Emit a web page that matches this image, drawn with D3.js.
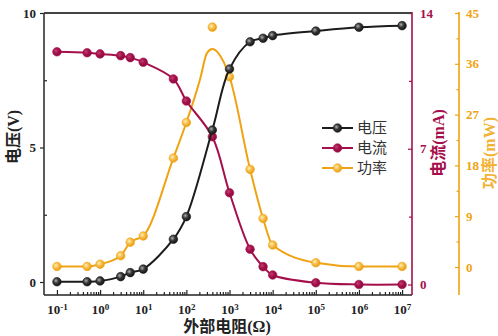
<!DOCTYPE html>
<html><head><meta charset="utf-8">
<script src="https://cdn.jsdelivr.net/npm/d3@7/dist/d3.min.js"></script>
<style>body{margin:0;background:#fff}svg{display:block}</style>
</head><body>
<svg id="c" width="498" height="336"></svg>
<script>
// ---- data ----
const resistance = [0.1,0.5,1,3,5,10,50,100,400,1000,3000,6000,10000,1e5,1e6,1e7];
const voltage = [0.01,0.01,0.04,0.2,0.35,0.48,1.59,2.43,5.65,7.92,8.93,9.06,9.16,9.33,9.47,9.53];
const current = [12.0,11.95,11.89,11.8,11.7,11.46,10.6,9.46,7.62,4.73,1.82,0.92,0.49,0.09,0.0,0.0];
const power = [0.1,0.1,0.5,2.0,4.4,5.5,19.3,25.6,42.5,33.7,17.3,8.6,3.9,0.76,0.1,0.1];
const powerFitR = [0.1,0.5,1,3,5,10,50,100,210,300,400,550,1000,3000,6000,10000,1e5,1e6,1e7];
const powerFitP = [0.1,0.1,0.5,2.0,4.4,5.5,19.3,25.6,33.4,37.9,38.6,37.9,33.7,17.3,8.6,3.9,0.76,0.1,0.1];
const xTicks = [-1,0,1,2,3,4,5,6,7];
const vTicks = [0,5,10], vMinor = [2.5,7.5];
const iTicks = [0,7,14], iMinor = [3.5,10.5];
const pTicks = [0,9,18,27,36,45], pMinor = [4.5,13.5,22.5,31.5,40.5];
const legendNames = ["电压","电流","功率"];

const cV = "#1c1c1c", cI = "#a50f4b", cP = "#f0a312";
const svg = d3.select("#c");
const L = 44, Rr = 412, T = 13, B = 295;

const x = d3.scaleLog().domain([Math.pow(10,-1.3), Math.pow(10,7.23)]).range([L, Rr]);
const yV = d3.scaleLinear().domain([0,10]).range([282,13]);
const yI = d3.scaleLinear().domain([0,14]).range([284.5,13]);
const yP = d3.scaleLinear().domain([0,45]).range([267,13]);

// gradients
const defs = svg.append("defs");
function grad(id, stops){
  const g = defs.append("radialGradient").attr("id",id).attr("cx","38%").attr("cy","38%").attr("r","65%");
  stops.forEach(s=>g.append("stop").attr("offset",s[0]).attr("stop-color",s[1]));
}
grad("gV",[["0%","#b0b0b0"],["45%","#3a3a3a"],["100%","#111"]]);
grad("gI",[["0%","#c0406e"],["50%","#a50f4b"],["100%","#8a0c3e"]]);
grad("gP",[["0%","#fff0b0"],["45%","#f6c050"],["100%","#eb9a0c"]]);

const serif = "'Liberation Serif','Times New Roman',serif";
const cjk = "'Liberation Serif','Noto Sans CJK SC',serif";

// ---- axes ----
function style(g, color){
  g.select(".domain").remove();
  g.selectAll("line").attr("stroke",color).attr("stroke-width",1.2);
  g.selectAll("text").attr("fill",color).attr("font-family",serif).attr("font-weight","bold").attr("font-size",13);
}
// bottom major
const gx = svg.append("g").attr("transform",`translate(0,${B})`)
  .call(d3.axisBottom(x).tickValues(xTicks.map(e=>Math.pow(10,e))).tickSize(-5).tickPadding(10).tickFormat(""));
style(gx,"#222");
gx.selectAll(".tick text").each(function(d){
  const t = d3.select(this); const e = Math.round(Math.log10(d));
  t.text("");
  t.append("tspan").text("10");
  t.append("tspan").attr("dy","-0.45em").attr("font-size",9).text(e);
});
const minorX = [];
for (let e=-1;e<7;e++) for (let k=2;k<10;k++) minorX.push(k*Math.pow(10,e));
const gxm = svg.append("g").attr("transform",`translate(0,${B})`)
  .call(d3.axisBottom(x).tickValues(minorX).tickSize(-3).tickFormat(""));
style(gxm,"#222");

// left
const gy = svg.append("g").attr("transform",`translate(${L},0)`)
  .call(d3.axisLeft(yV).tickValues(vTicks).tickSize(4).tickPadding(4));
style(gy,"#222");
const gym = svg.append("g").attr("transform",`translate(${L},0)`)
  .call(d3.axisLeft(yV).tickValues(vMinor).tickSize(-3).tickFormat(""));
style(gym,"#222");

// right (current)
const gi = svg.append("g").attr("transform",`translate(${Rr},0)`)
  .call(d3.axisRight(yI).tickValues(iTicks).tickSize(-4).tickPadding(8));
style(gi,cI);
const gim = svg.append("g").attr("transform",`translate(${Rr},0)`)
  .call(d3.axisRight(yI).tickValues(iMinor).tickSize(-3).tickFormat(""));
style(gim,cI);

// far right (power)
const PX = 459;
const gp = svg.append("g").attr("transform",`translate(${PX},0)`)
  .call(d3.axisRight(yP).tickValues(pTicks).tickSize(-4).tickPadding(7));
style(gp,cP);
const gpm = svg.append("g").attr("transform",`translate(${PX},0)`)
  .call(d3.axisRight(yP).tickValues(pMinor).tickSize(-2.5).tickFormat(""));
style(gpm,cP);

// frame lines
svg.append("line").attr("x1",L).attr("x2",Rr).attr("y1",T).attr("y2",T).attr("stroke","#444").attr("stroke-width",2);
svg.append("line").attr("x1",L).attr("x2",Rr).attr("y1",B).attr("y2",B).attr("stroke","#222").attr("stroke-width",1.6);
svg.append("line").attr("x1",L).attr("x2",L).attr("y1",T).attr("y2",B).attr("stroke","#333").attr("stroke-width",1.6);
svg.append("line").attr("x1",Rr).attr("x2",Rr).attr("y1",T-1).attr("y2",B).attr("stroke",cI).attr("stroke-width",1.6);
svg.append("line").attr("x1",PX).attr("x2",PX).attr("y1",T-1).attr("y2",B).attr("stroke",cP).attr("stroke-width",1.6);

// ---- series ----
function series(vals, yScale, color, gradId, fitR, fitV, crv){
  const pts = (fitR||resistance).map((r,i)=>[x(r), yScale((fitV||vals)[i])]);
  svg.append("path").attr("d", d3.line().curve(crv)(pts))
    .attr("fill","none").attr("stroke",color).attr("stroke-width",2);
  svg.append("g").selectAll("circle").data(vals).join("circle")
    .attr("cx",(d,i)=>x(resistance[i])).attr("cy",d=>yScale(d)).attr("r",4.3)
    .attr("fill",`url(#${gradId})`).attr("stroke",color).attr("stroke-width",0.6);
}
series(power, yP, cP, "gP", powerFitR, powerFitP, d3.curveMonotoneX);
series(current, yI, cI, "gI", null, null, d3.curveCatmullRom.alpha(0.5));
series(voltage, yV, cV, "gV", null, null, d3.curveCatmullRom.alpha(0.5));

// ---- legend ----
const lg = [[cV,"gV"],[cI,"gI"],[cP,"gP"]];
const ly = [128,148,168];
legendNames.forEach((n,i)=>{
  svg.append("line").attr("x1",322).attr("x2",353).attr("y1",ly[i]).attr("y2",ly[i]).attr("stroke",lg[i][0]).attr("stroke-width",2);
  svg.append("circle").attr("cx",337.5).attr("cy",ly[i]).attr("r",4.3).attr("fill",`url(#${lg[i][1]})`).attr("stroke",lg[i][0]).attr("stroke-width",0.6);
  svg.append("text").attr("x",357).attr("y",ly[i]).attr("dy","0.35em").attr("font-family","'Noto Sans CJK SC',sans-serif")
    .attr("font-size",15).attr("fill","#333").text(n);
});

// ---- titles ----
svg.append("text").attr("transform","translate(19,137) rotate(-90)").attr("text-anchor","middle")
  .attr("font-family",cjk).attr("font-weight","bold").attr("font-size",16).attr("fill","#222").text("电压(V)");
svg.append("text").attr("transform","translate(444,143) rotate(-90)").attr("text-anchor","middle")
  .attr("font-family",cjk).attr("font-weight","bold").attr("font-size",16).attr("fill",cI).text("电流(mA)");
svg.append("text").attr("transform","translate(495,153) rotate(-90)").attr("text-anchor","middle")
  .attr("font-family",cjk).attr("font-weight","bold").attr("font-size",16).attr("fill","#f2b233").text("功率(mW)");
svg.append("text").attr("x",227).attr("y",332).attr("text-anchor","middle")
  .attr("font-family",cjk).attr("font-weight","bold").attr("font-size",16).attr("fill","#222").text("外部电阻(Ω)");
</script>
</body></html>
